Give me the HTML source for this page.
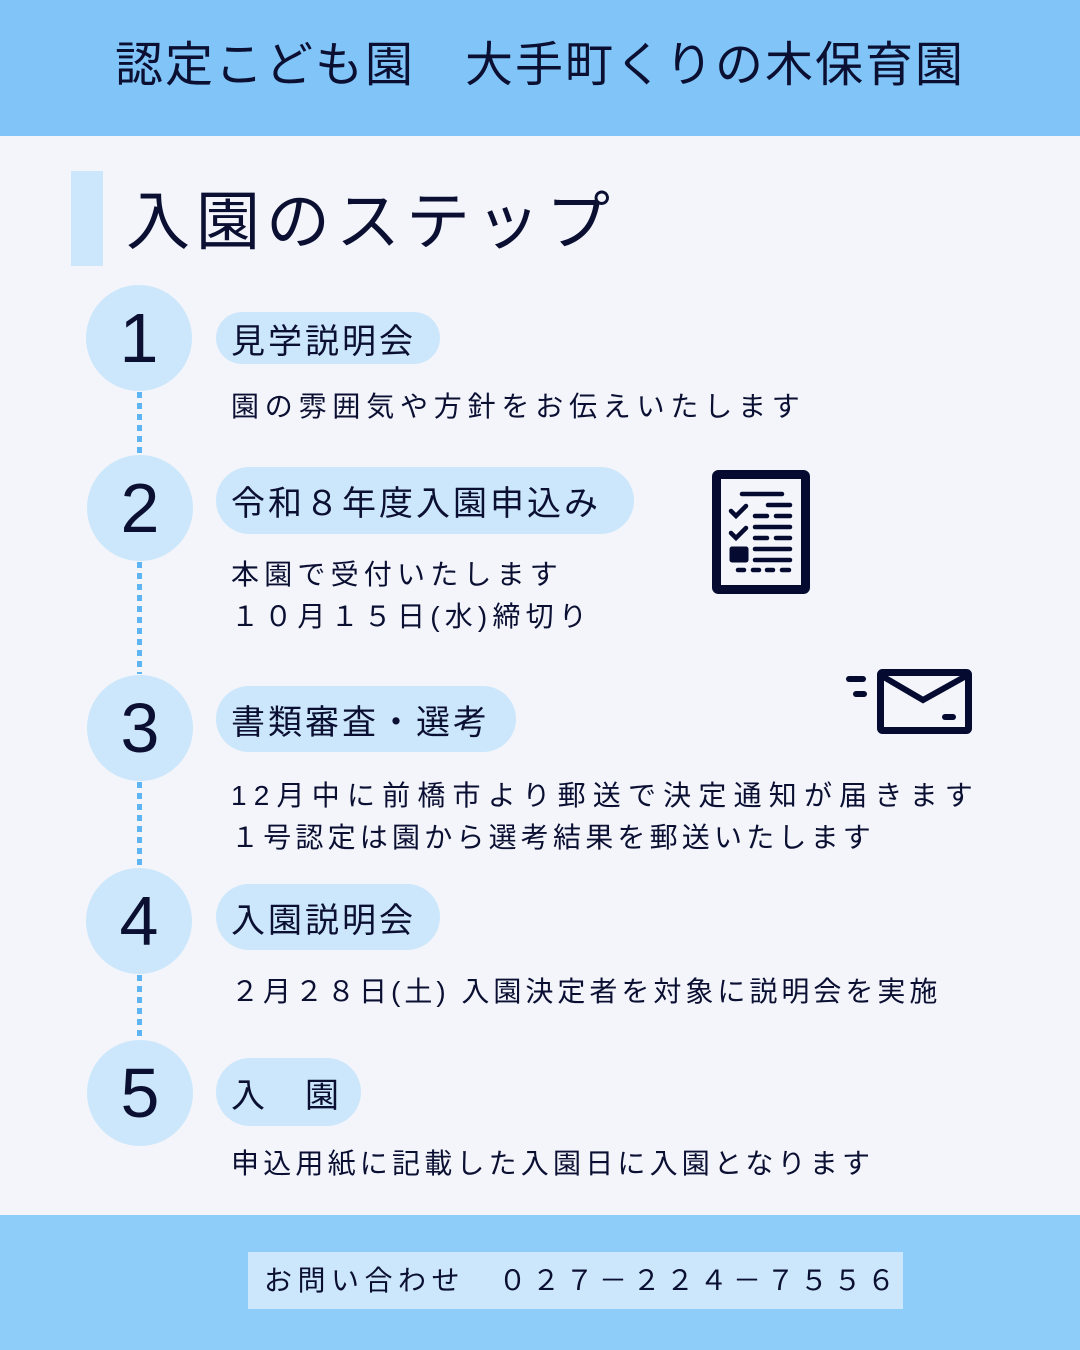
<!DOCTYPE html>
<html><head><meta charset="utf-8"><style>
*{margin:0;padding:0;box-sizing:border-box}
body{width:1080px;height:1350px;background:#f3f5fb;position:relative;overflow:hidden;font-family:"Liberation Sans","Noto Sans CJK JP",sans-serif;color:#0b1033}
.abs{position:absolute}
.hdr{left:0;top:0;width:1080px;height:136px;background:#80c4f8}
.hdr div{position:absolute;left:0;width:1080px;top:36px;text-align:center;font-size:48px;letter-spacing:2px;line-height:60px}
.bar{left:71px;top:171px;width:32px;height:95px;background:#cce7fb}
.ttl{left:126px;top:182px;font-size:64px;line-height:80px;letter-spacing:6px}
.c{width:106px;height:106px;border-radius:50%;background:#cce7fb;text-align:center;font-size:70px;line-height:106px;font-family:"Liberation Sans",sans-serif;font-weight:normal}
.dot{left:137px;width:5px;background:repeating-linear-gradient(#5fb4f3 0 6px,transparent 6px 11px)}
.pill{background:#cce7fb;border-radius:34px;font-size:34px;letter-spacing:3px;padding-left:15px;display:flex;align-items:center}
.d{left:231px;font-size:28px;letter-spacing:5.2px;line-height:42px;white-space:nowrap}
.ftr{left:0;top:1215px;width:1080px;height:135px;background:#8ecdf9}
.box{left:248px;top:1252px;width:655px;height:57px;background:#cce7fb;font-size:28px;letter-spacing:5.5px;line-height:57px;padding-left:16px;white-space:pre}
</style></head><body>
<div class="abs hdr"><div>認定こども園　大手町くりの木保育園</div></div>
<div class="abs bar"></div>
<div class="abs ttl">入園のステップ</div>

<div class="abs dot" style="top:392px;height:62px"></div>
<div class="abs dot" style="top:562px;height:112px"></div>
<div class="abs dot" style="top:782px;height:86px"></div>
<div class="abs dot" style="top:975px;height:66px"></div>

<div class="abs c" style="left:86px;top:285px">1</div>
<div class="abs c" style="left:87px;top:455px">2</div>
<div class="abs c" style="left:87px;top:675px">3</div>
<div class="abs c" style="left:86px;top:868px">4</div>
<div class="abs c" style="left:87px;top:1040px">5</div>

<div class="abs pill" style="left:216px;top:312px;width:224px;height:52px">見学説明会</div>
<div class="abs d" style="top:386px;letter-spacing:5.8px">園の雰囲気や方針をお伝えいたします</div>

<div class="abs pill" style="left:216px;top:467px;width:418px;height:67px">令和８年度入園申込み</div>
<div class="abs d" style="top:554px">本園で受付いたします<br>１０月１５日(水)締切り</div>

<div class="abs pill" style="left:216px;top:686px;width:300px;height:66px">書類審査・選考</div>
<div class="abs d" style="top:775px;letter-spacing:7.2px">12月中に前橋市より郵送で決定通知が届きます</div>
<div class="abs d" style="top:817px;letter-spacing:4.2px">１号認定は園から選考結果を郵送いたします</div>

<div class="abs pill" style="left:216px;top:884px;width:224px;height:66px">入園説明会</div>
<div class="abs d" style="top:971px;letter-spacing:4px">２月２８日(土) 入園決定者を対象に説明会を実施</div>

<div class="abs pill" style="left:216px;top:1058px;width:145px;height:68px">入　園</div>
<div class="abs d" style="top:1143px;letter-spacing:4.2px">申込用紙に記載した入園日に入園となります</div>

<svg class="abs" style="left:700px;top:450px" width="300" height="300" viewBox="0 0 300 300">
<g fill="#050b30" stroke="#050b30" stroke-linecap="round">
<rect x="16.5" y="24.5" width="89" height="115" rx="2" fill="none" stroke-width="9"/>
<g stroke-width="4.5" fill="none">
<line x1="42" y1="44" x2="82" y2="44"/>
<line x1="68" y1="55" x2="90" y2="55"/>
<line x1="55" y1="66" x2="67" y2="66"/><line x1="76" y1="66" x2="90" y2="66"/>
<line x1="55" y1="77" x2="90" y2="77"/>
<line x1="55" y1="88" x2="67" y2="88"/><line x1="76" y1="88" x2="90" y2="88"/>
<line x1="55" y1="99" x2="90" y2="99"/>
<line x1="55" y1="110" x2="90" y2="110"/>
<line x1="38" y1="120" x2="44" y2="120"/><line x1="53" y1="120" x2="59" y2="120"/><line x1="67" y1="120" x2="73" y2="120"/><line x1="82" y1="120" x2="89" y2="120"/>
<polyline points="31,61 36,66 46,56"/><polyline points="31,83 36,88 46,78"/>
</g>
<rect x="30" y="97" width="18" height="15" rx="2"/>
<rect x="180.5" y="222.5" width="88" height="58" rx="2" fill="none" stroke-width="7"/>
<polyline points="182,226 223,250 266,226" fill="none" stroke-width="6"/>
<line x1="245" y1="267" x2="253" y2="267" stroke-width="6"/>
<line x1="149" y1="229" x2="163" y2="229" stroke-width="6"/>
<line x1="156" y1="244" x2="164" y2="244" stroke-width="6"/>
</g></svg>

<div class="abs ftr"></div>
<div class="abs box">お問い合わせ　０２７－２２４－７５５６</div>
</body></html>
